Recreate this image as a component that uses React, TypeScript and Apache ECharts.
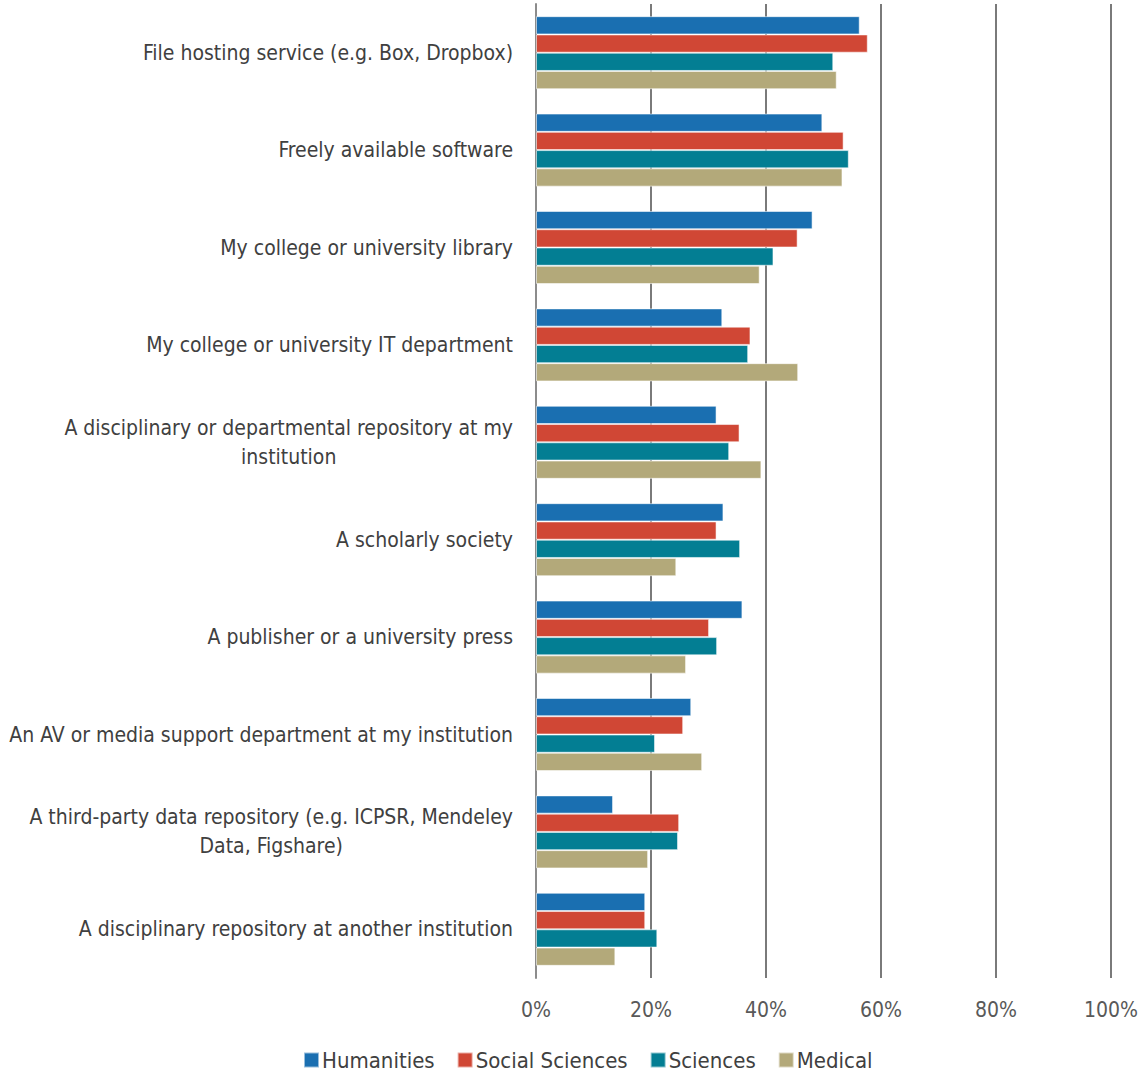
import React, { useEffect, useRef } from "react";
import * as echarts from "echarts";

const categories = [
  "File hosting service (e.g. Box, Dropbox)",
  "Freely available software",
  "My college or university library",
  "My college or university IT department",
  "A disciplinary or departmental repository at my\ninstitution",
  "A scholarly society",
  "A publisher or a university press",
  "An AV or media support department at my institution",
  "A third-party data repository (e.g. ICPSR, Mendeley\nData, Figshare)",
  "A disciplinary repository at another institution",
];

const humanities = [56.3, 49.8, 48.1, 32.4, 31.4, 32.6, 35.9, 27.0, 13.4, 19.0];
const socialSciences = [57.7, 53.5, 45.5, 37.3, 35.4, 31.4, 30.1, 25.6, 24.9, 19.0];
const sciences = [51.7, 54.4, 41.3, 36.9, 33.6, 35.5, 31.5, 20.7, 24.7, 21.1];
const medical = [52.3, 53.3, 38.9, 45.6, 39.2, 24.4, 26.1, 28.9, 19.5, 13.8];

const seriesNames = ["Humanities", "Social Sciences", "Sciences", "Medical"];
const seriesColors = ["#1A6FB1", "#D04735", "#037E93", "#B3A97A"];
const xTicks = [0, 20, 40, 60, 80, 100];

const FONT = "'Liberation Sans Narrow', 'Arial Narrow', 'DejaVu Sans Condensed', sans-serif";

export default function App() {
  const ref = useRef<HTMLDivElement>(null);
  useEffect(() => {
    if (!ref.current) return;
    const chart = echarts.init(ref.current, null, { renderer: "svg" });
    const data = [humanities, socialSciences, sciences, medical];
    chart.setOption({
      animation: false,
      textStyle: { fontFamily: FONT },
      grid: {
        left: 536,
        right: 27,
        top: 4,
        bottom: 98,
        containLabel: false,
        outerBoundsMode: "none",
      },
      legend: {
        bottom: 0,
        left: 298,
        itemWidth: 15,
        itemHeight: 15,
        itemGap: 22,
        icon: "rect",
        textStyle: { fontFamily: FONT, fontSize: 22, color: "#404040", padding: [0, 0, 0, -2] },
        data: seriesNames,
      },
      xAxis: {
        type: "value",
        min: 0,
        max: 100,
        interval: 20,
        axisLine: { show: false },
        axisTick: { show: false },
        splitLine: { show: true, lineStyle: { color: "#7a7a7a", width: 2 } },
        axisLabel: {
          fontFamily: FONT,
          fontSize: 21,
          color: "#595959",
          margin: 21,
          hideOverlap: false,
          formatter: (v: number) => (xTicks.includes(v) ? v + "%" : ""),
        },
      },
      yAxis: {
        type: "category",
        inverse: true,
        data: categories,
        axisLine: { show: true, lineStyle: { color: "#8c8c8c", width: 2 } },
        axisTick: { show: false },
        axisLabel: {
          margin: 23,
          formatter: (v: string) => "{c|" + v + "}",
          rich: {
            c: {
              fontFamily: FONT,
              fontSize: 21,
              color: "#404040",
              align: "center",
              lineHeight: 29,
            },
          },
        },
      },
      series: seriesNames.map((name, i) => ({
        name,
        type: "bar",
        data: data[i],
        barGap: "0%",
        barCategoryGap: "25%",
        itemStyle: {
          color: seriesColors[i],
          borderColor: "rgba(255,255,255,0.55)",
          borderWidth: 1,
        },
      })),
    });
    return () => chart.dispose();
  }, []);
  return (
    <div
      ref={ref}
      style={{ position: "absolute", left: 0, top: 0, width: 1138, height: 1076 }}
    />
  );
}
